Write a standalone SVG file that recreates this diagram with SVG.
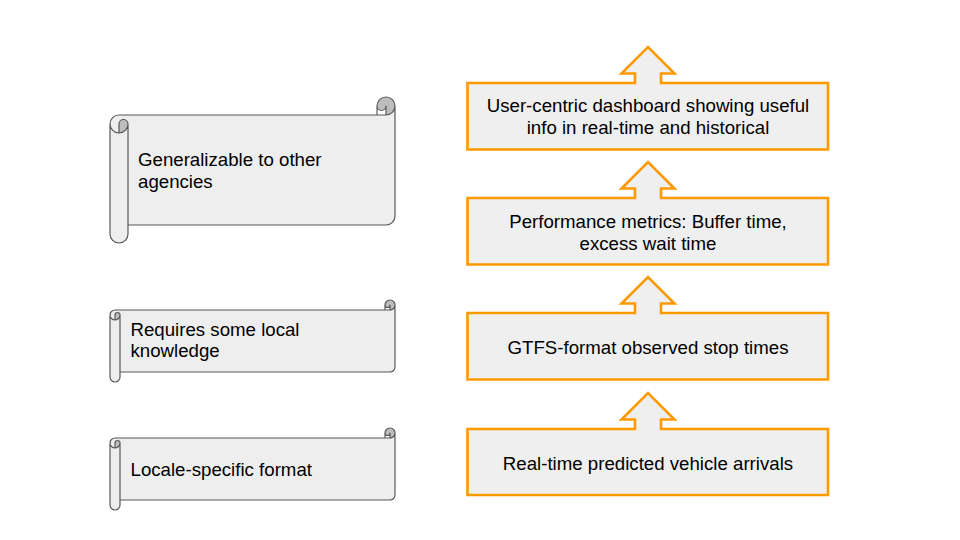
<svg xmlns="http://www.w3.org/2000/svg" width="960" height="540" viewBox="0 0 960 540">
<style>
.bg{fill:#ffffff}
.light{fill:#eeeeee;stroke:none}
.dark{fill:#bdbdbd;stroke:none}
.outline{fill:none;stroke:#595959;stroke-width:1.2;stroke-linejoin:round}
.abox{fill:#efefef;stroke:#ff9900;stroke-width:2.6;stroke-linejoin:miter}
.t{font-family:"Liberation Sans",Arial,sans-serif;font-size:18.67px;fill:#000000}
.c{text-anchor:middle}
</style>
<rect class="bg" x="0" y="0" width="960" height="540"/>

<g id="scroll-generalizable" transform="translate(110,97)">
<path class="light" d="M9,18 L276,18 L276,9 L285,9 L285,119 A9,9 0 0 1 276,128 L18,128 L18,137 A9,9 0 0 1 0,137 L0,27 A9,9 0 0 1 9,18 Z"/>
<path class="dark" d="M9,36 A9,9 0 0 0 18,27 A4.5,4.5 0 0 0 9,27 Z M276,18 A9,9 0 1 0 267,9 A4.5,4.5 0 0 0 276,9 Z"/>
<path class="outline" d="M0,27 A9,9 0 0 1 9,18 L267,18 L267,9 A9,9 0 0 1 285,9 L285,119 A9,9 0 0 1 276,128 L18,128 L18,137 A9,9 0 0 1 0,137 Z M267,18 L276,18 A9,9 0 0 0 285,9 M276,18 L276,9 A4.5,4.5 0 0 1 267,9 M9,36 L9,27 A4.5,4.5 0 0 1 18,27 A9,9 0 0 1 0,27 M18,27 L18,128"/>
<text class="t" x="28" y="69">Generalizable to other</text>
<text class="t" x="28" y="90.5">agencies</text>
</g>

<g id="scroll-local-knowledge" transform="translate(110,300)">
<path class="light" d="M5,10 L280,10 L280,5 L285,5 L285,67 A5,5 0 0 1 280,72 L10,72 L10,77 A5,5 0 0 1 0,77 L0,15 A5,5 0 0 1 5,10 Z"/>
<path class="dark" d="M5,20 A5,5 0 0 0 10,15 A2.5,2.5 0 0 0 5,15 Z M280,10 A5,5 0 1 0 275,5 A2.5,2.5 0 0 0 280,5 Z"/>
<path class="outline" d="M0,15 A5,5 0 0 1 5,10 L275,10 L275,5 A5,5 0 0 1 285,5 L285,67 A5,5 0 0 1 280,72 L10,72 L10,77 A5,5 0 0 1 0,77 Z M275,10 L280,10 A5,5 0 0 0 285,5 M280,10 L280,5 A2.5,2.5 0 0 1 275,5 M5,20 L5,15 A2.5,2.5 0 0 1 10,15 A5,5 0 0 1 0,15 M10,15 L10,72"/>
<text class="t" x="20.5" y="35.5">Requires some local</text>
<text class="t" x="20.5" y="57">knowledge</text>
</g>

<g id="scroll-locale-format" transform="translate(110,428)">
<path class="light" d="M5,10 L280,10 L280,5 L285,5 L285,67 A5,5 0 0 1 280,72 L10,72 L10,77 A5,5 0 0 1 0,77 L0,15 A5,5 0 0 1 5,10 Z"/>
<path class="dark" d="M5,20 A5,5 0 0 0 10,15 A2.5,2.5 0 0 0 5,15 Z M280,10 A5,5 0 1 0 275,5 A2.5,2.5 0 0 0 280,5 Z"/>
<path class="outline" d="M0,15 A5,5 0 0 1 5,10 L275,10 L275,5 A5,5 0 0 1 285,5 L285,67 A5,5 0 0 1 280,72 L10,72 L10,77 A5,5 0 0 1 0,77 Z M275,10 L280,10 A5,5 0 0 0 285,5 M280,10 L280,5 A2.5,2.5 0 0 1 275,5 M5,20 L5,15 A2.5,2.5 0 0 1 10,15 A5,5 0 0 1 0,15 M10,15 L10,72"/>
<text class="t" x="20.5" y="48">Locale-specific format</text>
</g>

<g id="box-dashboard">
<path class="abox" d="M467.5,83 L635,83 L635,73.5 L621.5,73.5 L648,47 L674.5,73.5 L661,73.5 L661,83 L828,83 L828,149.5 L467.5,149.5 Z"/>
<text class="t c" x="648" y="112">User-centric dashboard showing useful</text>
<text class="t c" x="648" y="133.5">info in real-time and historical</text>
</g>

<g id="box-metrics">
<path class="abox" d="M467.5,198 L635,198 L635,188.5 L621.5,188.5 L648,162 L674.5,188.5 L661,188.5 L661,198 L828,198 L828,264.5 L467.5,264.5 Z"/>
<text class="t c" x="648" y="228">Performance metrics: Buffer time,</text>
<text class="t c" x="648" y="249.5">excess wait time</text>
</g>

<g id="box-gtfs">
<path class="abox" d="M467.5,313 L635,313 L635,303.5 L621.5,303.5 L648,277 L674.5,303.5 L661,303.5 L661,313 L828,313 L828,379.5 L467.5,379.5 Z"/>
<text class="t c" x="648" y="354">GTFS-format observed stop times</text>
</g>

<g id="box-realtime">
<path class="abox" d="M467.5,429 L635,429 L635,419.5 L621.5,419.5 L648,393 L674.5,419.5 L661,419.5 L661,429 L828,429 L828,495 L467.5,495 Z"/>
<text class="t c" x="648" y="470">Real-time predicted vehicle arrivals</text>
</g>

<g id="connectors"/>
</svg>
